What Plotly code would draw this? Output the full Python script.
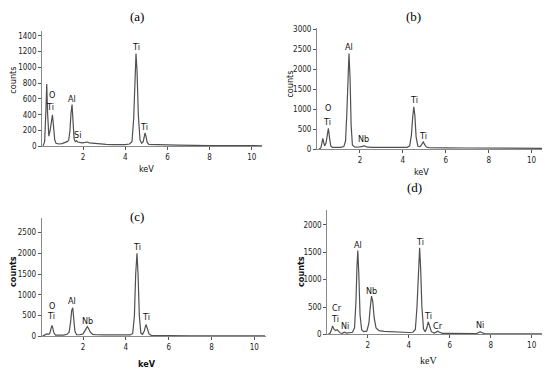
import plotly.graph_objects as go

W, H = 550, 377
OFF = 8  # page body margin of the browser
FW, FH = W - OFF, H - OFF

# ---------------- data ----------------
a_kev = [0.10, 0.18, 0.24, 0.28, 0.32, 0.38, 0.44, 0.50, 0.55, 0.60,
         0.66, 0.72, 0.85, 1.0, 1.15, 1.25, 1.32, 1.38, 1.43, 1.48,
         1.53, 1.58, 1.64, 1.70, 1.75, 1.82, 1.95, 2.1, 2.2, 2.3,
         2.45, 2.6, 2.75, 2.9, 3.1, 3.4, 3.7, 4.0, 4.2, 4.32,
         4.40, 4.46, 4.51, 4.56, 4.62, 4.70, 4.78, 4.85, 4.90, 4.94,
         4.98, 5.04, 5.12, 5.3, 5.6, 6.0, 6.5, 7.0, 8.0, 9.0,
         10.0, 10.5]
a_counts = [0, 60, 450, 790, 420, 130, 200, 360, 400, 260,
            80, 40, 30, 35, 45, 60, 80, 200, 420, 530,
            300, 90, 60, 70, 55, 50, 45, 50, 55, 45,
            40, 35, 38, 30, 25, 22, 20, 22, 30, 60,
            350, 900, 1175, 950, 400, 80, 40, 60, 130, 170,
            130, 50, 25, 22, 20, 18, 15, 12, 10, 10,
            8, 8]

b_kev = [0.10, 0.18, 0.23, 0.27, 0.31, 0.36, 0.42, 0.48, 0.53, 0.58,
         0.64, 0.72, 0.9, 1.1, 1.25, 1.33, 1.39, 1.44, 1.49, 1.54,
         1.59, 1.65, 1.75, 1.9, 2.05, 2.13, 2.19, 2.26, 2.35, 2.6,
         3.0, 3.5, 4.0, 4.2, 4.32, 4.40, 4.46, 4.51, 4.56, 4.62,
         4.70, 4.80, 4.88, 4.95, 5.02, 5.10, 5.2, 5.5, 6.0, 7.0,
         8.0, 9.0, 10.0, 10.5]
b_counts = [0, 30, 150, 270, 170, 80, 150, 420, 520, 300,
            80, 40, 35, 40, 60, 200, 900, 1900, 2400, 1800,
            600, 100, 50, 45, 50, 65, 85, 60, 45, 40,
            40, 35, 35, 40, 80, 350, 800, 1060, 850, 300,
            70, 60, 110, 175, 110, 50, 35, 30, 28, 25,
            22, 20, 18, 18]

c_kev = [0.10, 0.2, 0.3, 0.4, 0.46, 0.51, 0.55, 0.59, 0.64, 0.72,
         0.9, 1.1, 1.25, 1.35, 1.42, 1.47, 1.52, 1.57, 1.62, 1.70,
         1.85, 2.0, 2.08, 2.15, 2.2, 2.26, 2.34, 2.45, 2.6, 3.0,
         3.5, 4.0, 4.2, 4.32, 4.40, 4.46, 4.52, 4.57, 4.63, 4.70,
         4.78, 4.86, 4.94, 5.01, 5.08, 5.18, 5.4, 6.0, 7.0, 8.0,
         9.0, 10.0, 10.5]
c_counts = [0, 30, 60, 50, 90, 200, 265, 200, 80, 30,
            25, 30, 50, 100, 350, 620, 690, 450, 120, 40,
            40, 60, 120, 200, 235, 190, 100, 50, 40, 35,
            30, 30, 35, 70, 500, 1500, 2000, 1500, 500, 80,
            50, 130, 285, 180, 60, 25, 20, 18, 15, 12,
            10, 10, 10]

d_kev = [0.05, 0.15, 0.22, 0.28, 0.34, 0.42, 0.5, 0.58, 0.66, 0.75,
         0.85, 0.95, 1.1, 1.25, 1.35, 1.42, 1.47, 1.51, 1.56, 1.62,
         1.70, 1.8, 1.95, 2.05, 2.12, 2.18, 2.24, 2.31, 2.4, 2.55,
         2.8, 3.2, 3.6, 4.0, 4.2, 4.32, 4.40, 4.47, 4.53, 4.58,
         4.64, 4.72, 4.80, 4.88, 4.95, 5.02, 5.10, 5.25, 5.35, 5.42,
         5.50, 5.65, 6.0, 6.5, 7.0, 7.3, 7.42, 7.48, 7.55, 7.7,
         8.0, 9.0, 10.0, 10.5]
d_counts = [0, 20, 80, 155, 100, 70, 85, 60, 25, 20,
            40, 25, 30, 40, 120, 600, 1250, 1530, 1100, 350,
            80, 50, 60, 200, 500, 700, 600, 300, 120, 70,
            55, 45, 40, 35, 40, 90, 500, 1200, 1580, 1200,
            500, 100, 50, 120, 230, 150, 50, 25, 40, 60,
            40, 20, 18, 15, 14, 15, 35, 50, 35, 15,
            12, 10, 10, 10]

# peak labels: (text, keV, counts)
a_labels = [("O", 0.52, 650), ("Ti", 0.44, 500), ("Al", 1.49, 605), ("Si", 1.73, 140),
            ("Ti", 4.50, 1255), ("Ti", 4.90, 245)]
b_labels = [("O", 0.53, 1020), ("Ti", 0.45, 675), ("Al", 1.48, 2565), ("Nb", 2.15, 240),
            ("Ti", 4.50, 1225), ("Ti", 4.93, 320)]
c_labels = [("O", 0.55, 740), ("Ti", 0.49, 480), ("Al", 1.49, 840), ("Nb", 2.20, 365),
            ("Ti", 4.52, 2140), ("Ti", 4.93, 465)]
d_labels = [("Cr", 0.47, 485), ("Ti", 0.39, 285), ("Ni", 0.88, 155), ("Al", 1.50, 1630),
            ("Nb", 2.20, 795), ("Ti", 4.53, 1690), ("Ti", 4.95, 335), ("Cr", 5.43, 150),
            ("Ni", 7.48, 168)]

x_ticks = [2, 4, 6, 8, 10]
a_yticks = [0, 200, 400, 600, 800, 1000, 1200, 1400]
b_yticks = [0, 500, 1000, 1500, 2000, 2500, 3000]
c_yticks = [0, 500, 1000, 1500, 2000, 2500]
d_yticks = [0, 500, 1000, 1500, 2000]

panel_titles = ["(a)", "(b)", "(c)", "(d)"]

# ---------------- layout helpers (page pixels -> paper fractions) ----------------
def fx(p):
    return (p - OFF) / FW

def fy(p):
    return 1 - (p - OFF) / FH

NARROW = "Liberation Sans Narrow, DejaVu Sans Condensed, Arial Narrow, sans-serif"
SERIF = "Palatino Linotype, Liberation Serif, DejaVu Serif, serif"

panels = [
    dict(kev=a_kev, cnt=a_counts, lab=a_labels, yt=a_yticks, xr=[0.06, 10.5], yr=[0, 1460],
         xd=(42.1, 262.4), yd=(147.0, 29.5)),
    dict(kev=b_kev, cnt=b_counts, lab=b_labels, yt=b_yticks, xr=[0.0, 10.5], yr=[0, 3050],
         xd=(317.0, 542.3), yd=(149.7, 25.9)),
    dict(kev=c_kev, cnt=c_counts, lab=c_labels, yt=c_yticks, xr=[0.07, 10.55], yr=[0, 2850],
         xd=(41.7, 266.1), yd=(340.7, 220.0)),
    dict(kev=d_kev, cnt=d_counts, lab=d_labels, yt=d_yticks, xr=[0.02, 10.57], yr=[0, 2263],
         xd=(327.3, 543.3), yd=(338.7, 212.3)),
]

fig = go.Figure()
annotations = []
for i, p in enumerate(panels):
    n = "" if i == 0 else str(i + 1)
    xa, ya = "x" + n, "y" + n
    fig.add_trace(go.Scatter(x=p["kev"], y=p["cnt"], mode="lines",
                             line=dict(color="#505050", width=1.2),
                             xaxis=xa, yaxis=ya, showlegend=False, hoverinfo="skip"))
    axis_common = dict(showline=True, linecolor="#8a8a8a", linewidth=1, showgrid=False,
                       zeroline=False, ticks="outside", ticklen=3, tickwidth=1,
                       tickcolor="#555555",
                       tickfont=dict(family=NARROW, size=8, color="#222222"))
    fig.update_layout(**{
        "xaxis" + n: dict(domain=[fx(p["xd"][0]), fx(p["xd"][1])], range=p["xr"],
                          anchor=ya, tickvals=x_ticks, **axis_common),
        "yaxis" + n: dict(domain=[fy(p["yd"][0]), fy(p["yd"][1])], range=p["yr"],
                          anchor=xa, tickvals=p["yt"], **axis_common),
    })
    for txt, kx, ky in p["lab"]:
        annotations.append(dict(text=txt, x=kx, y=ky, xref=xa, yref=ya, showarrow=False,
                                font=dict(family=NARROW, size=9, color="#111111"),
                                xanchor="center", yanchor="middle"))

title_pos = [(137, 14.5), (413, 14.5), (137, 218), (414, 189)]
for t, (x, y) in zip(panel_titles, title_pos):
    annotations.append(dict(text=t, x=fx(x), y=fy(y), xref="paper", yref="paper",
                            showarrow=False, xanchor="center", yanchor="middle",
                            font=dict(family=SERIF, size=13, color="#000000")))

count_pos = [(13, 80, False), (290, 83, False), (13, 275, True), (301, 275, True)]
for x, y, bold in count_pos:
    annotations.append(dict(text="<b>counts</b>" if bold else "counts", x=fx(x), y=fy(y),
                            xref="paper", yref="paper", showarrow=False, textangle=-90,
                            xanchor="center", yanchor="middle",
                            font=dict(family=NARROW, size=9, color="#111111")))

kev_pos = [(146, 170, NARROW, False), (421, 173, NARROW, False),
           (147, 369, NARROW, True), (428, 365, SERIF, False)]
for x, y, fam, bold in kev_pos:
    annotations.append(dict(text="<b>keV</b>" if bold else "keV", x=fx(x), y=fy(y),
                            xref="paper", yref="paper", showarrow=False,
                            xanchor="center", yanchor="middle",
                            font=dict(family=fam, size=9 if fam == NARROW else 10,
                                      color="#111111")))

fig.update_layout(width=FW, height=FH, margin=dict(l=0, r=0, t=0, b=0),
                  paper_bgcolor="white", plot_bgcolor="white",
                  annotations=annotations, showlegend=False)

fig.write_html("out.html", config={"displayModeBar": False})
